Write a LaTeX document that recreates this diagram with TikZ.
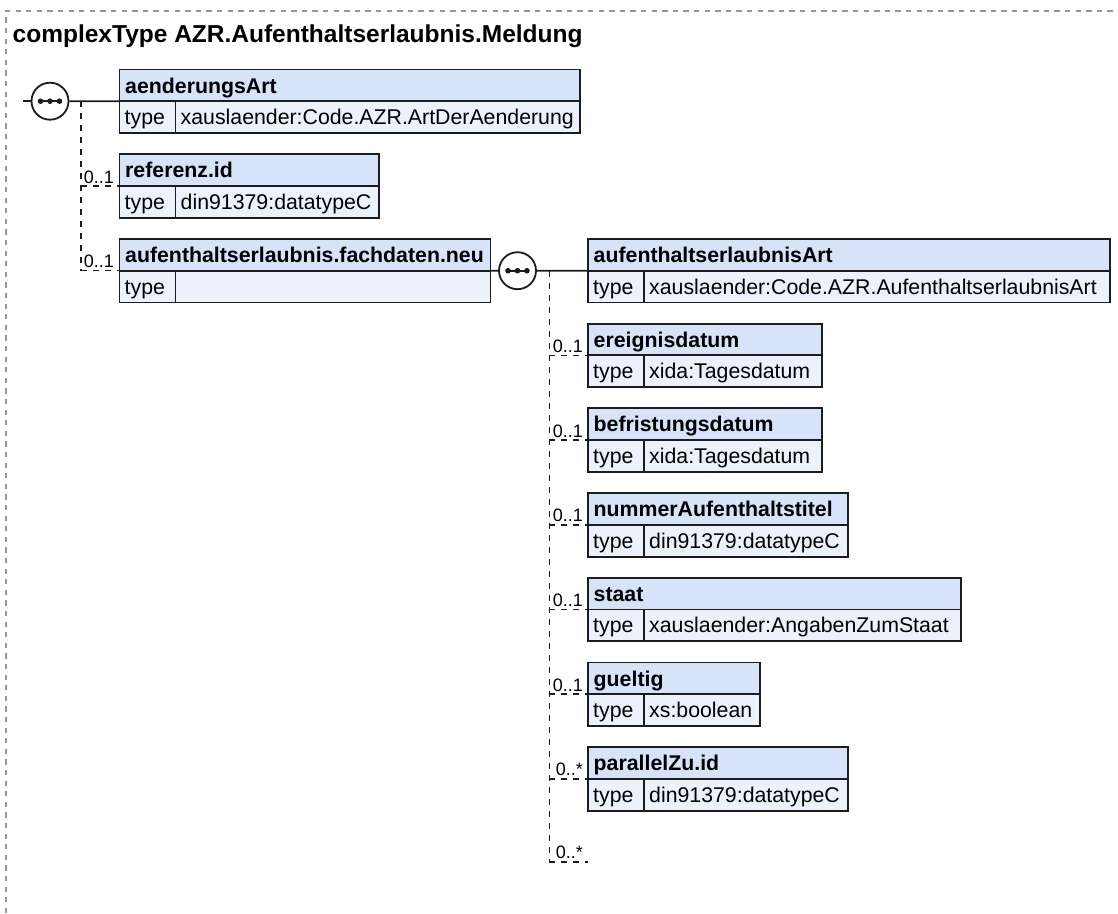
\documentclass[tikz,border=0pt]{standalone}
\usepackage{fontspec}
\setmainfont{Liberation Sans}
\definecolor{hdrc}{RGB}{214,227,248}
\definecolor{rowc}{RGB}{235,242,252}
\definecolor{bordc}{RGB}{28,28,28}
\definecolor{framec}{RGB}{150,150,150}
\tikzset{
  hdr/.style={draw=bordc, fill=hdrc, line width=1.9pt, rectangle, inner sep=0pt, outer sep=0pt, anchor=north west, minimum height=31.7pt},
  row/.style={draw=bordc, fill=rowc, line width=1.9pt, rectangle, inner sep=0pt, outer sep=0pt, anchor=north west, minimum height=31.8pt},
  htext/.style={anchor=base west, inner sep=0pt, font=\bfseries\fontsize{21.3}{25}\selectfont, text=black},
  vtext/.style={anchor=base west, inner sep=0pt, font=\fontsize{21.3}{25}\selectfont, text=black},
  lbl/.style={anchor=base east, inner sep=0pt, font=\fontsize{18}{20}\selectfont, text=black},
  conn/.style={line width=1.7pt, draw=bordc},
  dconn/.style={line width=1.5pt, draw=bordc, dash pattern=on 6pt off 6pt},
  seq/.style={circle, draw=bordc, fill=white, line width=1.8pt, minimum size=37pt, inner sep=0pt},
  framedash/.style={draw=framec, line width=1.1pt, dash pattern=on 5.3pt off 5.3pt},
}
\newcommand\elbox[6]{%
  \node[hdr, minimum width={#4pt-#2pt}] (#1-h) at (#2,#3) {};
  \node[row, minimum width={#4pt-#2pt}] (#1-t) at (#2,#3+31.7) {};
  \draw[line width=1.9pt, draw=bordc] ([xshift=56pt]#1-t.north west) -- ([xshift=56pt]#1-t.south west);
  \node[htext] (#1-hl) at (#2+5.5,#3+23.5) {#5};
  \node[vtext] (#1-tl) at (#2+5,#3+31.7+23.3) {type};
  \node[vtext] (#1-vl) at (#2+61,#3+31.7+23.3) {#6};
}
\begin{document}
\begin{tikzpicture}[x=1pt,y=-1pt]
\useasboundingbox[fill=white] (0,0) rectangle (1118,913);
% frame
\coordinate (fbl) at (6,913);
\coordinate (ftl) at (6,11);
\coordinate (ftr) at (1118,11);
\draw[framedash] (fbl) -- (ftl) -- (ftr);
% title
\node[anchor=base west, inner sep=0pt, font=\bfseries\fontsize{24.5}{28}\selectfont] (title) at (12.5,42) {complexType AZR.Aufenthaltserlaubnis.Meldung};

% sequence 1
\coordinate (in1) at (23,101.2);
\node[seq] (s1) at (50,101.2) {};
\coordinate (v1) at (81,101.2);
% sequence 2
\node[seq] (s2) at (517.5,270.7) {};
\coordinate (v2) at (549.3,270.7);
\coordinate (end2) at (588,862);

% left column boxes
\elbox{aend}{119.5}{69.5}{580}{aenderungsArt}{xauslaender:Code.AZR.ArtDerAenderung}
\elbox{ref}{119.5}{154.3}{379}{referenz.id}{din91379:datatypeC}
\elbox{fach}{119.5}{239}{490.5}{aufenthaltserlaubnis.fachdaten.neu}{}
% right column boxes
\elbox{art}{588}{239}{1110}{aufenthaltserlaubnisArt}{xauslaender:Code.AZR.AufenthaltserlaubnisArt}
\elbox{ereig}{588}{323.7}{822}{ereignisdatum}{xida:Tagesdatum}
\elbox{befr}{588}{408.4}{822}{befristungsdatum}{xida:Tagesdatum}
\elbox{numm}{588}{493.1}{848.3}{nummerAufenthaltstitel}{din91379:datatypeC}
\elbox{staat}{588}{577.8}{961}{staat}{xauslaender:AngabenZumStaat}
\elbox{guel}{588}{662.5}{760}{gueltig}{xs:boolean}
\elbox{par}{588}{747.2}{848.3}{parallelZu.id}{din91379:datatypeC}

% connectors sequence 1
\draw[conn] (in1) -- (s1.west);
\draw[conn] (s1.east) -- (aend-h.south west);
\draw[dconn] (v1) -- (v1 |- fach-h.south west);
\draw[dconn] (v1 |- ref-h.south west) -- (ref-h.south west);
\draw[dconn] (v1 |- fach-h.south west) -- (fach-h.south west);
\node[lbl] (l-ref) at ([xshift=-5.5pt,yshift=3pt]ref-h.south west) {0..1};
\node[lbl] (l-fach) at ([xshift=-5.5pt,yshift=3pt]fach-h.south west) {0..1};

% connectors sequence 2
\draw[conn] (fach-h.south east) -- (s2.west);
\draw[conn] (s2.east) -- (art-h.south west);
\draw[dconn] (v2) -- (v2 |- end2);
\foreach \b in {ereig,befr,numm,staat,guel}{
  \draw[dconn] (v2 |- \b-h.south west) -- (\b-h.south west);
  \node[lbl] (l-\b) at ([xshift=-5pt,yshift=3pt]\b-h.south west) {0..1};
}
\draw[dconn] (v2 |- par-h.south west) -- (par-h.south west);
\node[lbl] (l-par) at ([xshift=-5pt,yshift=3pt]par-h.south west) {0..*};
\draw[dconn] (v2 |- end2) -- (end2);
\node[lbl] (l-end) at ([xshift=-5pt,yshift=3.5pt]end2) {0..*};

% dots in sequence symbols
\foreach \s in {s1,s2}{
  \draw[line width=1.6pt, draw=bordc] ([xshift=-9.5pt]\s.center) -- ([xshift=9.5pt]\s.center);
  \fill[bordc] ([xshift=-9.5pt]\s.center) circle (2.8pt);
  \fill[bordc] (\s.center) circle (2.8pt);
  \fill[bordc] ([xshift=9.5pt]\s.center) circle (2.8pt);
}
\end{tikzpicture}
\end{document}
